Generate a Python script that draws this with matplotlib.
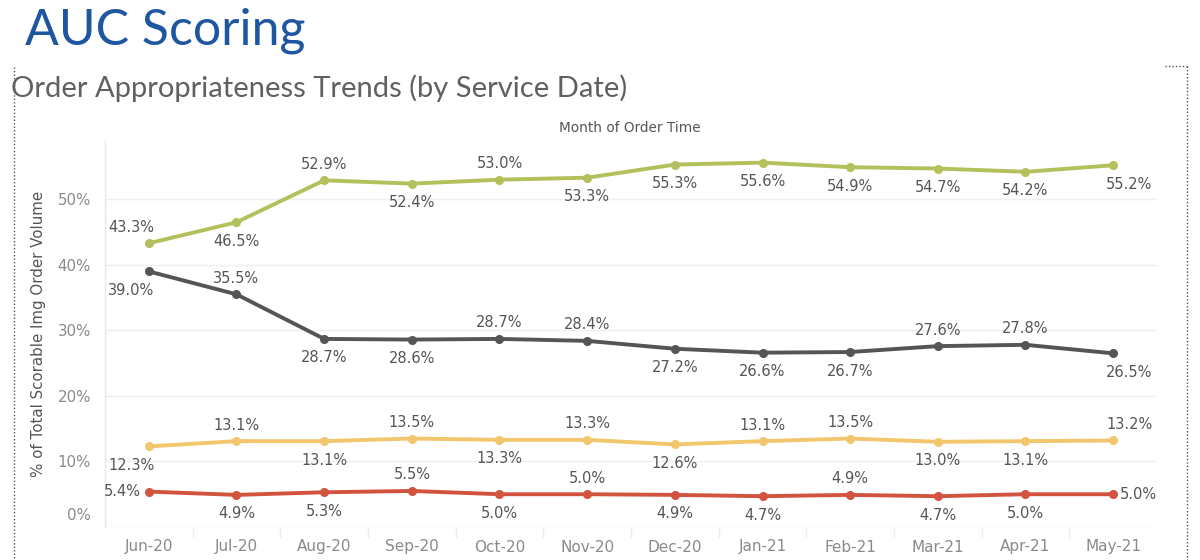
import matplotlib
matplotlib.use("Agg")
import matplotlib.pyplot as plt
from matplotlib.lines import Line2D
from matplotlib.ticker import FuncFormatter
from matplotlib import transforms

months = ["Jun-20", "Jul-20", "Aug-20", "Sep-20", "Oct-20", "Nov-20",
          "Dec-20", "Jan-21", "Feb-21", "Mar-21", "Apr-21", "May-21"]
green_vals = [43.3, 46.5, 52.9, 52.4, 53.0, 53.3, 55.3, 55.6, 54.9, 54.7, 54.2, 55.2]
gray_vals = [39.0, 35.5, 28.7, 28.6, 28.7, 28.4, 27.2, 26.6, 26.7, 27.6, 27.8, 26.5]
yellow_vals = [12.3, 13.1, 13.1, 13.5, 13.3, 13.3, 12.6, 13.1, 13.5, 13.0, 13.1, 13.2]
red_vals = [5.4, 4.9, 5.3, 5.5, 5.0, 5.0, 4.9, 4.7, 4.9, 4.7, 5.0, 5.0]
y_ticks = [0, 10, 20, 30, 40, 50]

# label placement per point: 'a' above, 'b' below, 's' side
green_pos = ["a", "b", "a", "b", "a", "b", "b", "b", "b", "b", "b", "b"]
gray_pos = ["b", "a", "b", "b", "a", "a", "b", "b", "b", "a", "a", "b"]
yellow_pos = ["b", "a", "b", "a", "b", "a", "b", "a", "a", "b", "b", "a"]
red_pos = ["s", "b", "b", "a", "b", "a", "b", "b", "a", "b", "b", "s"]

W, H = 1200, 560
fig = plt.figure(figsize=(12, 5.6), dpi=100)
fig.patch.set_facecolor("white")

L, R, T, B = 105, 1157, 141, 527
ax = fig.add_axes([L / W, 1 - B / H, (R - L) / W, (B - T) / H])
ax.set_xlim(-0.5, 11.5)
ax.set_ylim(0, 58.9)

for s in ["top", "right", "bottom"]:
    ax.spines[s].set_visible(False)
ax.spines["left"].set_color("#e8e8e8")
ax.spines["left"].set_linewidth(1)

ax.set_yticks(y_ticks)
ax.yaxis.set_major_formatter(FuncFormatter(lambda v, p: f"{int(v)}%"))
ax.tick_params(axis="y", length=0, pad=10, labelsize=10.8, labelcolor="#8a8a8a")
for yv in y_ticks[1:]:
    ax.axhline(yv, color="#efefef", lw=1, zorder=0)
ax.axhline(0, color="#e8e8e8", lw=1, zorder=0)

# shift 0% label up
for lab in ax.get_yticklabels():
    if lab.get_text() == "0%":
        lab.set_transform(lab.get_transform() + transforms.ScaledTranslation(0, 13 / 100, fig.dpi_scale_trans))

xs = list(range(len(months)))
ax.set_xticks(xs)
ax.set_xticklabels(months)
ax.tick_params(axis="x", length=0, pad=9, labelsize=11, labelcolor="#8a8a8a")
ax.set_xticks([x + 0.5 for x in xs[:-1]], minor=True)
ax.tick_params(axis="x", which="minor", length=8, color="#ececec", width=1)

ax.set_ylabel("% of Total Scorable Img Order Volume", fontsize=10.8, color="#555555", labelpad=8)

series = [
    (green_vals, green_pos, "#b4c05b"),
    (gray_vals, gray_pos, "#555555"),
    (yellow_vals, yellow_pos, "#f1c66c"),
    (red_vals, red_pos, "#d2543e"),
]

for vals, pos, col in series:
    ax.plot(xs, vals, color=col, lw=2.8, marker="o", markersize=5.5, zorder=3,
            solid_capstyle="round")
    n = len(vals)
    for i, (v, p) in enumerate(zip(vals, pos)):
        txt = f"{v:.1f}%"
        ha = "center"
        dx = 0
        if i == 0:
            ha = "right"
            dx = 4
        elif i == n - 1:
            ha = "left"
            dx = -5
        if p == "a":
            dy = 16
        elif p == "b":
            dy = -19
        else:
            dy = 0
            dx = -6 if i == 0 else 5
        ax.annotate(txt, (i, v), xytext=(dx, dy * 0.72), textcoords="offset points",
                    ha=ha, va="center", fontsize=10.5, color="#555555", zorder=4)

fig.text(630 / W, 1 - 128 / H, "Month of Order Time", ha="center", va="center",
         fontsize=9.8, color="#555555")

fig.text(25 / W, 1 - 31 / H, "AUC Scoring", ha="left", va="center",
         fontsize=36, color="#1f56a0", family="Lato")
fig.text(11 / W, 1 - 88 / H, "Order Appropriateness Trends (by Service Date)",
         ha="left", va="center", fontsize=21, color="#606060", family="Lato")

# dotted borders
fig.add_artist(Line2D([14 / W, 14 / W], [1 - 67 / H, 0], transform=fig.transFigure,
                      color="#555555", lw=1, ls=(0, (1, 1.5))))
fig.add_artist(Line2D([1165 / W, 1187 / W], [1 - 66 / H, 1 - 66 / H], transform=fig.transFigure,
                      color="#555555", lw=1, ls=(0, (1, 1.5))))
fig.add_artist(Line2D([1187 / W, 1187 / W], [1 - 66 / H, 0], transform=fig.transFigure,
                      color="#555555", lw=1, ls=(0, (1, 1.5))))

fig.savefig("out.png", dpi=100)
